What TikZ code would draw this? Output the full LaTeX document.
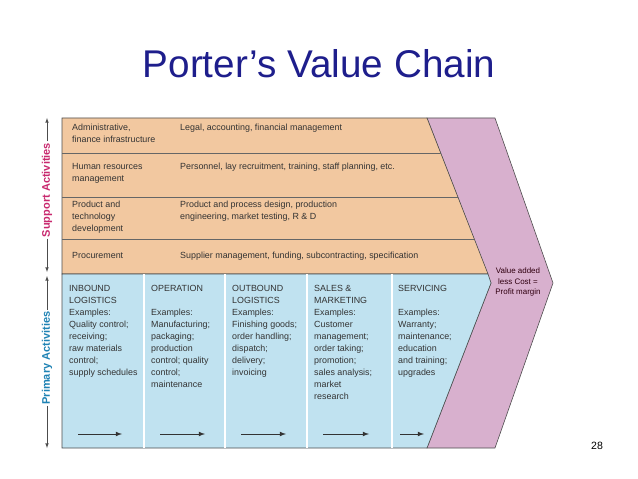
\documentclass[tikz,border=0pt]{standalone}
\usepackage{fontspec}
\setmainfont{Liberation Sans}
\usetikzlibrary{positioning,arrows}
\definecolor{tanfill}{RGB}{242,200,160}
\definecolor{bluefill}{RGB}{192,226,240}
\definecolor{purplefill}{RGB}{216,176,206}
\definecolor{titleblue}{RGB}{30,30,140}
\definecolor{supportred}{RGB}{200,40,110}
\definecolor{primaryblue}{RGB}{30,130,180}
\tikzstyle{txt} = [anchor=north west, inner sep=0pt, align=left, font=\fontsize{7.6}{10.2}\selectfont, text=black!80]
\tikzstyle{flow} = [thick,-latex]
\tikzstyle{frame} = [draw=black!70, line width=0.5pt]
\tikzstyle{axislabel} = [rotate=90, fill=white, inner sep=1pt, font=\bfseries\fontsize{9.4}{11}\selectfont]
\begin{document}
\begin{tikzpicture}[x=0.03cm, y=-0.03cm]
        \useasboundingbox (0,0) rectangle (638,479);
        % Title
        \node [font=\fontsize{33}{38}\selectfont, text=titleblue] (title) at (319,64) {Porter’s Value Chain};
        \node [font=\fontsize{9}{10}\selectfont] (page) at (597,446) {28};
        % Areas
        \fill [purplefill, frame] (427,118) -- (495,118) -- (553,283) -- (495,448) -- (427,448) -- (491,283) -- cycle;
        \fill [tanfill, frame] (62,118) -- (427,118) -- (488,274) -- (62,274) -- cycle;
        \fill [bluefill, frame] (62,274) -- (488,274) -- (491,283) -- (427,448) -- (62,448) -- cycle;
        \foreach \y in {153,197,239} \draw [black!60] (62,\y) -- ({427+61*(\y-118)/156},\y);
        \foreach \x in {144,225,307,392} \draw [white, line width=1pt] (\x,274) -- (\x,448);
        % Support activities
        \node [txt] (admin) at (72,124) {Administrative,\\finance infrastructure};
        \node [txt] (adminx) at (180,124) {Legal, accounting, financial management};
        \node [txt] (hr) at (72,163) {Human resources\\management};
        \node [txt] (hrx) at (180,163) {Personnel, lay recruitment, training, staff planning, etc.};
        \node [txt] (tech) at (72,201) {Product and\\technology\\development};
        \node [txt] (techx) at (180,201) {Product and process design, production\\engineering, market testing, R \& D};
        \node [txt] (proc) at (72,252) {Procurement};
        \node [txt] (procx) at (180,252) {Supplier management, funding, subcontracting, specification};
        % Primary activities
        \node [txt] (inbound) at (69,285) {INBOUND\\LOGISTICS\\Examples:\\Quality control;\\receiving;\\raw materials\\control;\\supply schedules};
        \node [txt] (operation) at (151,285) {OPERATION\\[10.2pt]Examples:\\Manufacturing;\\packaging;\\production\\control; quality\\control;\\maintenance};
        \node [txt] (outbound) at (232,285) {OUTBOUND\\LOGISTICS\\Examples:\\Finishing goods;\\order handling;\\dispatch;\\delivery;\\invoicing};
        \node [txt] (sales) at (314,285) {SALES \&\\MARKETING\\Examples:\\Customer\\management;\\order taking;\\promotion;\\sales analysis;\\market\\research};
        \node [txt] (servicing) at (398,285) {SERVICING\\[10.2pt]Examples:\\Warranty;\\maintenance;\\education\\and training;\\upgrades};
        \node [txt, align=center, anchor=center, text=black!75!purple, font=\fontsize{6.8}{8.6}\selectfont] (margin) at (518,282) {Value added\\less Cost =\\Profit margin};
        % Flow arrows
        \foreach \a/\b in {78/122,160/205,241/286,323/369,400/424}
            \draw [flow, black!80] (\a,434) -- (\b,434);
        % Side axis
        \coordinate (stop) at (47,118);
        \coordinate (smid) at (47,274);
        \coordinate (sbot) at (47,448);
        \node [axislabel, text=supportred] (suplabel) at (47,190) {Support Activities};
        \node [axislabel, text=primaryblue] (primlabel) at (47,358) {Primary Activities};
        \draw [-latex, black!70] (suplabel.east) -- (stop);
        \draw [-latex, black!70] (suplabel.west) -- ([yshift=0.06cm]smid);
        \draw [-latex, black!70] (primlabel.east) -- ([yshift=-0.06cm]smid);
        \draw [-latex, black!70] (primlabel.west) -- (sbot);
    \end{tikzpicture}
\end{document}
